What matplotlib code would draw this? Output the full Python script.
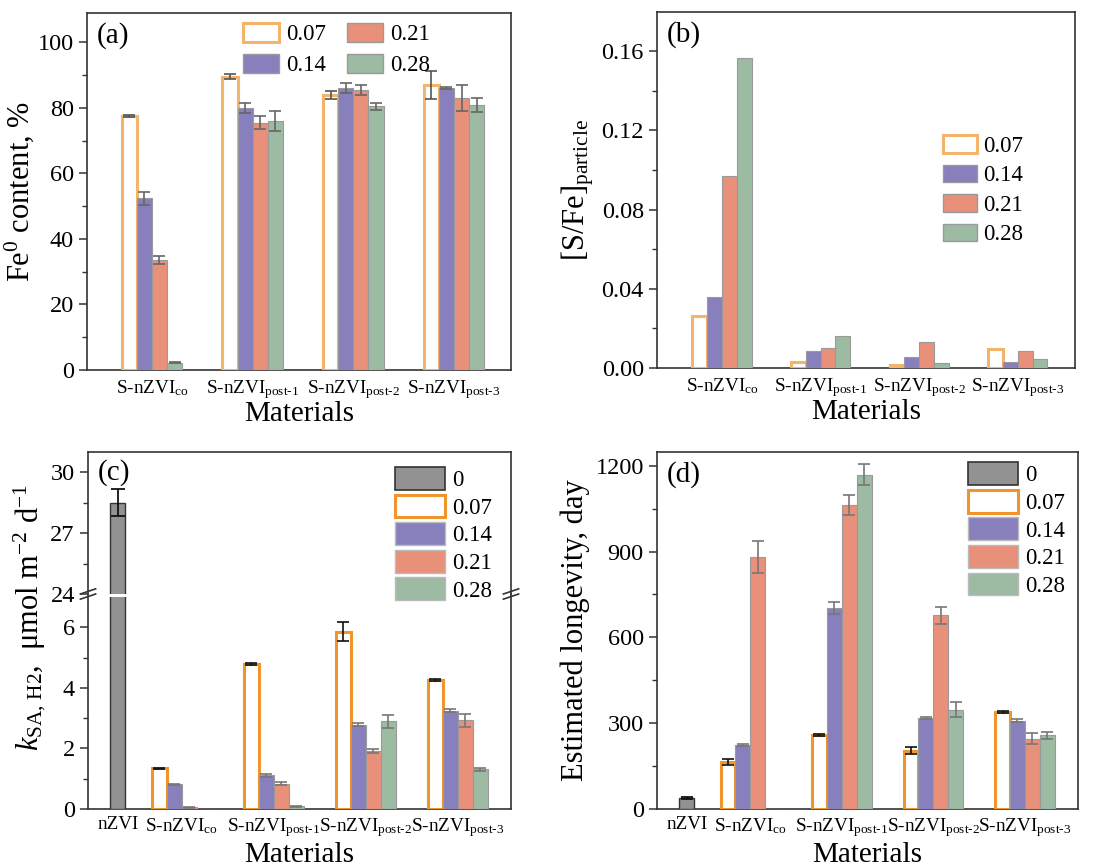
import numpy as np
import matplotlib
matplotlib.use("Agg")
import matplotlib.pyplot as plt
from matplotlib.patches import Rectangle, Patch

plt.rcParams['font.family'] = ['Liberation Serif', 'DejaVu Serif']
plt.rcParams['mathtext.fontset'] = 'custom'
plt.rcParams['mathtext.rm'] = 'Liberation Serif'
plt.rcParams['mathtext.it'] = 'Liberation Serif:italic'
plt.rcParams['mathtext.bf'] = 'Liberation Serif:bold'

# ---------------- data ----------------
series = ['0.07', '0.14', '0.21', '0.28']
cats4 = [r'S-nZVI$_{\mathrm{co}}$', r'S-nZVI$_{\text{post-1}}$',
         r'S-nZVI$_{\text{post-2}}$', r'S-nZVI$_{\text{post-3}}$']
cats5 = ['nZVI'] + cats4

# (a) Fe0 content, %
fe0_007 = [77.5, 89.5, 84.0, 87.0]
fe0_014 = [52.5, 80.0, 86.0, 86.0]
fe0_021 = [33.5, 75.5, 85.5, 83.0]
fe0_028 = [2.2, 76.0, 80.5, 81.0]
fe0_err_007 = [0.3, 0.8, 1.3, 4.3]
fe0_err_014 = [2.0, 1.5, 1.5, 0.3]
fe0_err_021 = [1.2, 2.0, 1.5, 4.0]
fe0_err_028 = [0.2, 3.0, 1.0, 2.1]

# (b) [S/Fe]particle
sfe_007 = [0.0262, 0.0032, 0.0017, 0.0098]
sfe_014 = [0.0358, 0.0086, 0.0054, 0.0029]
sfe_021 = [0.0969, 0.0103, 0.0130, 0.0084]
sfe_028 = [0.1566, 0.0162, 0.0025, 0.0045]

# (c) kSA,H2
k_nzvi = 28.5
k_nzvi_err = 0.67
k_007 = [1.34, 4.79, 5.86, 4.27]
k_014 = [0.81, 1.11, 2.79, 3.25]
k_021 = [0.055, 0.83, 1.91, 2.93]
k_028 = [0.0, 0.09, 2.90, 1.31]
k_err_007 = [0.03, 0.04, 0.30, 0.03]
k_err_014 = [0.02, 0.05, 0.04, 0.05]
k_err_021 = [0.01, 0.05, 0.07, 0.22]
k_err_028 = [0.0, 0.02, 0.22, 0.06]

# (d) Estimated longevity, day
l_nzvi = 38.5
l_nzvi_err = 4
l_007 = [165, 259, 204, 340]
l_014 = [223, 703, 318, 309]
l_021 = [881, 1063, 677, 246]
l_028 = [0, 1169, 347, 258]
l_err_007 = [10, 3, 12, 3]
l_err_014 = [3, 20, 5, 5]
l_err_021 = [56, 34, 29, 18]
l_err_028 = [0, 37, 26, 12]

# ---------------- styles ----------------
C_ORANGE_A = '#F3B46C'
C_ORANGE_C = '#F0952E'
C_PURPLE = '#8880BC'
C_SALMON = '#E8907A'
C_GREEN = '#9DBAA3'
C_GRAY = '#929292'
EDGE = '#9a9a9a'

fig = plt.figure(figsize=(11.10, 8.66), dpi=100)
W, H = 1110, 866


def fax(l, t, r, b):
    return fig.add_axes([l / W, 1 - b / H, (r - l) / W, (b - t) / H])


TICK_FS = 17.5
CAT_FS = 13.8
XLAB_FS = 21
YLAB_FS = 22
LEG_FS = 16.5
PANEL_FS = 21


def style(ax):
    for s in ax.spines.values():
        s.set_linewidth(1.2)
        s.set_color('#333333')
    ax.tick_params(axis='y', direction='out', length=6, width=1.1, labelsize=TICK_FS, color='#333333')
    ax.tick_params(axis='y', which='minor', direction='out', length=3.5, width=1.0, color='#333333')
    ax.tick_params(axis='x', length=0, labelsize=CAT_FS, pad=6)


def draw_groups(ax, xs, vals_list, errs_list, orange, bw, err_colors):
    cols = [None, C_PURPLE, C_SALMON, C_GREEN]
    offs = [-1.5, -0.5, 0.5, 1.5]
    for i, (vals, errs) in enumerate(zip(vals_list, errs_list)):
        x = np.asarray(xs) + offs[i] * bw
        vals = np.asarray(vals, float)
        if i == 0:
            ax.bar(x, vals, bw, facecolor='white', edgecolor=orange, linewidth=2.2, zorder=3)
        else:
            ax.bar(x, vals, bw, facecolor=cols[i], edgecolor=EDGE, linewidth=0.8, zorder=3)
        if errs is not None:
            e = np.asarray(errs, float)
            m = vals > 0
            ax.errorbar(x[m], vals[m], yerr=e[m], fmt='none', ecolor=err_colors[i],
                        elinewidth=1.2, capsize=4, capthick=1.2, zorder=4)


# ================= (a) =================
axa = fax(87, 13, 511, 370)
xs4 = np.arange(1, 5)
bw = 0.15
draw_groups(axa, xs4, [fe0_007, fe0_014, fe0_021, fe0_028],
            [fe0_err_007, fe0_err_014, fe0_err_021, fe0_err_028], C_ORANGE_A, bw,
            ['#555555', '#666666', '#666666', '#666666'])
axa.set_xlim(0.355, 4.566)
axa.set_ylim(0, 109)
axa.set_yticks([0, 20, 40, 60, 80, 100])
axa.set_yticks(np.arange(10, 110, 20), minor=True)
axa.set_xticks(xs4)
axa.set_xticklabels(cats4)
style(axa)
axa.set_xlabel('Materials', fontsize=XLAB_FS, labelpad=0)
axa.set_ylabel(r'Fe$^{0}$ content, %', fontsize=YLAB_FS, labelpad=1)
axa.text(0.024, 0.975, '(a)', transform=axa.transAxes, fontsize=PANEL_FS, va='top')
h_a = [Patch(facecolor='white', edgecolor=C_ORANGE_A, linewidth=2.2),
       Patch(facecolor=C_PURPLE, edgecolor=EDGE),
       Patch(facecolor=C_SALMON, edgecolor=EDGE),
       Patch(facecolor=C_GREEN, edgecolor=EDGE)]
axa.legend(h_a, series, ncol=2, loc='upper left', bbox_to_anchor=(0.347, 0.997), frameon=False,
           fontsize=LEG_FS, handlelength=1.55, handleheight=0.87, handletextpad=0.3,
           columnspacing=0.95, labelspacing=0.38, borderaxespad=0.0)

# ================= (b) =================
axb = fax(657, 12, 1075, 368)
draw_groups(axb, xs4, [sfe_007, sfe_014, sfe_021, sfe_028], [None] * 4, C_ORANGE_A, bw,
            ['k'] * 4)
axb.set_xlim(0.34, 4.58)
axb.set_ylim(0, 0.1797)
axb.set_yticks([0, 0.04, 0.08, 0.12, 0.16])
axb.set_yticklabels(['0.00', '0.04', '0.08', '0.12', '0.16'])
axb.set_yticks(np.arange(0.02, 0.18, 0.04), minor=True)
axb.set_xticks(xs4)
axb.set_xticklabels(cats4)
style(axb)
axb.set_xlabel('Materials', fontsize=XLAB_FS, labelpad=0)
axb.set_ylabel(r'[S/Fe]$_{\mathrm{particle}}$', fontsize=YLAB_FS, labelpad=4)
axb.text(0.024, 0.975, '(b)', transform=axb.transAxes, fontsize=PANEL_FS, va='top')
axb.legend(h_a, series, ncol=1, loc='upper left', bbox_to_anchor=(0.663, 0.68), frameon=False,
           fontsize=LEG_FS, handlelength=1.45, handleheight=0.8, handletextpad=0.3,
           labelspacing=0.34, borderaxespad=0.0)

# ================= (c) broken axis =================
xs5 = np.array([0.305, 1, 2, 3, 4])
bw5 = 0.163
axc_b = fax(88, 594, 511, 809)
axc_t = fax(88, 452, 511, 594)
axc_t.set_zorder(5)
axc_t.patch.set_alpha(0)
for ax in (axc_t, axc_b):
    ax.bar(xs5[0], k_nzvi, bw5, facecolor=C_GRAY, edgecolor='#333333', linewidth=1.0, zorder=3)
    draw_groups(ax, xs5[1:], [k_007, k_014, k_021, k_028],
                [k_err_007, k_err_014, k_err_021, k_err_028], C_ORANGE_C, bw5,
                ['#111111', '#777777', '#777777', '#777777'])
    ax.set_xlim(-0.02, 4.58)
axc_t.errorbar([xs5[0]], [k_nzvi], yerr=[k_nzvi_err], fmt='none', ecolor='#111111',
               elinewidth=1.3, capsize=5, capthick=1.3, zorder=4)
axc_t.set_ylim(24, 31)
axc_b.set_ylim(0, 7.1)
axc_t.set_yticks([24, 27, 30])
axc_t.set_yticks([25.5, 28.5], minor=True)
axc_b.set_yticks([0, 2, 4, 6])
axc_b.set_yticks([1, 3, 5], minor=True)
style(axc_t)
style(axc_b)
axc_t.spines['bottom'].set_visible(False)
axc_b.spines['top'].set_visible(False)
axc_t.set_xticks([])
axc_b.set_xticks(xs5)
axc_b.set_xticklabels(cats5)
axc_b.tick_params(axis='x', pad=5)
axc_b.set_xlabel('Materials', fontsize=XLAB_FS, labelpad=2)
# white gap through the nZVI bar at the break
axc_b.add_patch(Rectangle((xs5[0] - bw5, 0.985), 2 * bw5, 0.03, transform=axc_b.get_xaxis_transform(),
                          facecolor='white', edgecolor='none', zorder=10, clip_on=False))
# break marks
for xb in (0.0, 1.0):
    for dy in (-0.012, 0.012):
        axc_b.plot([xb - 0.018, xb + 0.018], [1.0 + dy - 0.012, 1.0 + dy + 0.012],
                   transform=axc_b.transAxes, color='#333333', lw=1.2, clip_on=False, zorder=11)
fig.text(30 / W, 1 - 618 / H,
         r'$k_{\mathrm{SA,\,H2}}$,  $\mathrm{\mu}$mol m$^{-2}$ d$^{-1}$',
         rotation=90, fontsize=YLAB_FS, ha='center', va='center')
axc_t.text(0.024, 0.95, '(c)', transform=axc_t.transAxes, fontsize=PANEL_FS, va='top')
h_c = [Patch(facecolor=C_GRAY, edgecolor='#333333', linewidth=1.2),
       Patch(facecolor='white', edgecolor=C_ORANGE_C, linewidth=2.2),
       Patch(facecolor=C_PURPLE, edgecolor='#bbbbbb'),
       Patch(facecolor=C_SALMON, edgecolor='#bbbbbb'),
       Patch(facecolor=C_GREEN, edgecolor='#bbbbbb')]
labels5 = ['0'] + series
axc_t.legend(h_c, labels5, ncol=1, loc='upper left', bbox_to_anchor=(0.704, 0.958), frameon=False,
             fontsize=LEG_FS, handlelength=2.2, handleheight=1.15, handletextpad=0.3,
             labelspacing=0.15, borderaxespad=0.0)

# ================= (d) =================
axd = fax(657, 452, 1078, 809)
axd.bar(xs5[0], l_nzvi, bw5, facecolor=C_GRAY, edgecolor='#333333', linewidth=1.0, zorder=3)
axd.errorbar([xs5[0]], [l_nzvi], yerr=[l_nzvi_err], fmt='none', ecolor='#111111',
             elinewidth=1.3, capsize=4, capthick=1.3, zorder=4)
draw_groups(axd, xs5[1:], [l_007, l_014, l_021, l_028],
            [l_err_007, l_err_014, l_err_021, l_err_028], C_ORANGE_C, bw5,
            ['#111111', '#777777', '#777777', '#777777'])
axd.set_xlim(-0.02, 4.58)
axd.set_ylim(0, 1248)
axd.set_yticks([0, 300, 600, 900, 1200])
axd.set_yticks([150, 450, 750, 1050], minor=True)
axd.set_xticks(xs5)
axd.set_xticklabels(cats5)
style(axd)
axd.tick_params(axis='x', pad=5)
axd.set_xlabel('Materials', fontsize=XLAB_FS, labelpad=2)
axd.set_ylabel('Estimated longevity, day', fontsize=YLAB_FS, labelpad=4)
axd.text(0.024, 0.975, '(d)', transform=axd.transAxes, fontsize=PANEL_FS, va='top')
axd.legend(h_c, labels5, ncol=1, loc='upper left', bbox_to_anchor=(0.717, 0.997), frameon=False,
           fontsize=LEG_FS, handlelength=2.2, handleheight=1.15, handletextpad=0.3,
           labelspacing=0.15, borderaxespad=0.0)

fig.savefig('out.png', dpi=100)
